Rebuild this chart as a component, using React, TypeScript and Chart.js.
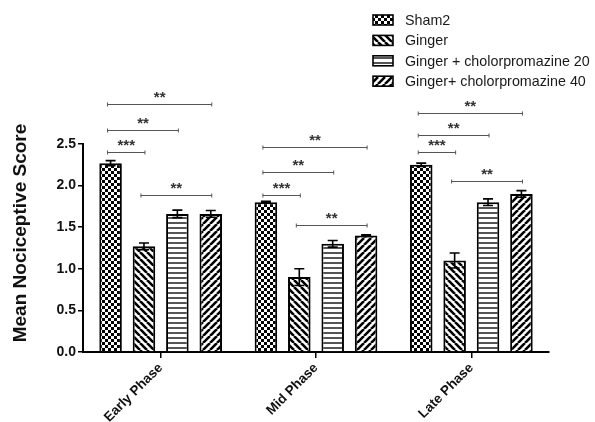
import React, { useEffect, useRef } from 'react';
import { Chart, registerables } from 'chart.js';

Chart.register(...registerables);

const categories = ['Early Phase', 'Mid Phase', 'Late Phase'];
const seriesNames = ['Sham2', 'Ginger', 'Ginger + cholorpromazine 20', 'Ginger+ cholorpromazine 40'];
const sham2 = [2.27, 1.8, 2.25];
const ginger = [1.27, 0.9, 1.1];
const gingerCpz20 = [1.66, 1.3, 1.8];
const gingerCpz40 = [1.66, 1.4, 1.9];
const sham2Err = [0.03, 0.01, 0.02];
const gingerErr = [0.04, 0.1, 0.09];
const gingerCpz20Err = [0.045, 0.04, 0.04];
const gingerCpz40Err = [0.04, 0.01, 0.04];
const yTicks = [0, 0.5, 1, 1.5, 2, 2.5];
const yTitle = 'Mean Nociceptive Score';

// significance brackets
const bracketCategory = [0, 0, 0, 0, 1, 1, 1, 1, 2, 2, 2, 2];
const bracketFrom = [0, 0, 0, 1, 0, 0, 0, 1, 0, 0, 0, 1];
const bracketTo = [3, 2, 1, 3, 3, 2, 1, 3, 3, 2, 1, 3];
const bracketY = [2.98, 2.67, 2.4, 1.89, 2.46, 2.16, 1.89, 1.53, 2.87, 2.61, 2.4, 2.06];
const bracketLabel = ['**', '**', '***', '**', '**', '**', '***', '**', '**', '**', '***', '**'];

const FONT = '"Liberation Sans", Arial, sans-serif';

function makePattern(kind: string): CanvasPattern | string {
  const c = document.createElement('canvas');
  const ctx = c.getContext('2d');
  if (!ctx) return '#fff';
  if (kind === 'checker') {
    c.width = 6; c.height = 6;
    ctx.fillStyle = '#fff'; ctx.fillRect(0, 0, 6, 6);
    ctx.fillStyle = '#000';
    ctx.fillRect(0, 0, 3, 3); ctx.fillRect(3, 3, 3, 3);
  } else if (kind === 'back' || kind === 'fwd') {
    const s = 7;
    c.width = s; c.height = s;
    ctx.fillStyle = '#fff'; ctx.fillRect(0, 0, s, s);
    ctx.strokeStyle = '#000'; ctx.lineWidth = 2.6;
    ctx.beginPath();
    for (let k = -1; k <= 1; k++) {
      if (kind === 'back') { ctx.moveTo(k * s, 0); ctx.lineTo(k * s + s, s); }
      else { ctx.moveTo(k * s, s); ctx.lineTo(k * s + s, 0); }
    }
    ctx.stroke();
  } else {
    c.width = 4; c.height = 5;
    ctx.fillStyle = '#fff'; ctx.fillRect(0, 0, 4, 5);
    ctx.fillStyle = '#555'; ctx.fillRect(0, 2, 4, 2);
  }
  return ctx.createPattern(c, 'repeat') || '#fff';
}

export default function App() {
  const ref = useRef<HTMLCanvasElement | null>(null);
  useEffect(() => {
    if (!ref.current) return;
    const patterns = [makePattern('checker'), makePattern('back'), makePattern('horiz'), makePattern('fwd')];
    const values = [sham2, ginger, gingerCpz20, gingerCpz40];
    const errs = [sham2Err, gingerErr, gingerCpz20Err, gingerCpz40Err];

    const extras = {
      id: 'extras',
      afterDatasetsDraw(chart: any) {
        const ctx = chart.ctx as CanvasRenderingContext2D;
        const ys = chart.scales.y;
        ctx.save();
        // error bars
        ctx.strokeStyle = '#000';
        ctx.lineWidth = 1.6;
        values.forEach((vals, i) => {
          const meta = chart.getDatasetMeta(i);
          vals.forEach((v, j) => {
            const el = meta.data[j];
            const x = el.x;
            const yt = ys.getPixelForValue(v + errs[i][j]);
            const yb = ys.getPixelForValue(v - errs[i][j]);
            ctx.beginPath();
            ctx.moveTo(x, yt); ctx.lineTo(x, yb);
            ctx.moveTo(x - 5, yt); ctx.lineTo(x + 5, yt);
            ctx.moveTo(x - 5, yb); ctx.lineTo(x + 5, yb);
            ctx.stroke();
          });
        });
        // significance brackets
        ctx.strokeStyle = '#555';
        ctx.lineWidth = 1;
        ctx.fillStyle = '#333';
        ctx.font = `bold 15px ${FONT}`;
        ctx.textAlign = 'center';
        ctx.textBaseline = 'alphabetic';
        bracketY.forEach((yv, k) => {
          const cat = bracketCategory[k];
          const x1 = chart.getDatasetMeta(bracketFrom[k]).data[cat].x - 3;
          const x2 = chart.getDatasetMeta(bracketTo[k]).data[cat].x + 1;
          const y = Math.round(ys.getPixelForValue(yv)) + 0.5;
          ctx.beginPath();
          ctx.moveTo(x1, y); ctx.lineTo(x2, y);
          ctx.moveTo(x1, y - 2); ctx.lineTo(x1, y + 2);
          ctx.moveTo(x2, y - 2); ctx.lineTo(x2, y + 2);
          ctx.stroke();
          ctx.fillText(bracketLabel[k], (x1 + x2) / 2, y - 2.5);
        });
        // legend
        ctx.textAlign = 'left';
        ctx.textBaseline = 'middle';
        ctx.font = `14.3px ${FONT}`;
        seriesNames.forEach((name, i) => {
          const cy = 20 + i * 20.4;
          ctx.fillStyle = patterns[i] as any;
          ctx.fillRect(373, cy - 5, 20, 10);
          ctx.strokeStyle = '#000';
          ctx.lineWidth = 1.6;
          ctx.strokeRect(373, cy - 5, 20, 10);
          ctx.fillStyle = '#1a1a1a';
          ctx.fillText(name, 405, cy + 1);
        });
        // y title
        ctx.save();
        ctx.translate(21, 233);
        ctx.rotate(-Math.PI / 2);
        ctx.textAlign = 'center';
        ctx.textBaseline = 'middle';
        ctx.font = `bold 19px ${FONT}`;
        ctx.fillStyle = '#111';
        ctx.fillText(yTitle, 0, 0);
        ctx.restore();
        ctx.restore();
      },
    };

    const chart = new Chart(ref.current, {
      type: 'bar',
      data: {
        labels: categories,
        datasets: values.map((vals, i) => ({
          label: seriesNames[i],
          data: vals,
          backgroundColor: patterns[i] as any,
          borderColor: '#000',
          borderWidth: 2,
          categoryPercentage: 0.86,
          barPercentage: 0.675,
        })),
      },
      options: {
        animation: false,
        responsive: false,
        devicePixelRatio: 1,
        layout: { padding: { top: 144, right: 46, left: 0, bottom: 0 } },
        plugins: { legend: { display: false }, tooltip: { enabled: false } },
        scales: {
          x: {
            type: 'category',
            offset: true,
            grid: { display: true, offset: false, drawOnChartArea: false, drawTicks: true, tickLength: 6, color: '#000', lineWidth: 1.5 },
            border: { display: true, color: '#000', width: 2 },
            ticks: {
              minRotation: 45,
              maxRotation: 45,
              padding: 2,
              color: '#111',
              font: { family: FONT, size: 13.5, weight: 'bold' },
            },
            afterFit: (s: any) => { s.height = 70; },
          },
          y: {
            min: 0,
            max: 2.5,
            afterBuildTicks: (s: any) => { s.ticks = yTicks.map((v) => ({ value: v })); },
            ticks: {
              padding: 2,
              color: '#111',
              font: { family: FONT, size: 14, weight: 'bold' },
              callback: (v: any) => Number(v).toFixed(1),
            },
            grid: { display: true, drawOnChartArea: false, drawTicks: true, tickLength: 5, color: '#000', lineWidth: 1.5 },
            border: { display: true, color: '#000', width: 2 },
            afterFit: (s: any) => { s.width = 83; },
          },
        },
      },
      plugins: [extras],
    });
    return () => chart.destroy();
  }, []);
  return (
    <div style={{ position: 'fixed', left: 0, top: 0, width: 595, height: 422, background: '#fff' }}>
      <canvas ref={ref} width={595} height={422} style={{ width: 595, height: 422 }} />
    </div>
  );
}
